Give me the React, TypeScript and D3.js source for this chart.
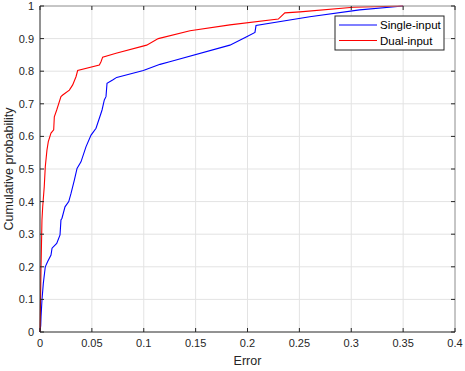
import * as d3 from 'd3';

const xTicks = [0, 0.05, 0.1, 0.15, 0.2, 0.25, 0.3, 0.35, 0.4];
const yTicks = [0, 0.1, 0.2, 0.3, 0.4, 0.5, 0.6, 0.7, 0.8, 0.9, 1];

// Single-input error CDF (x = error, y = cumulative probability)
const singleX = [0, 0.0007, 0.001, 0.0019, 0.0032, 0.0051, 0.0074, 0.0106, 0.0116, 0.0161, 0.0193, 0.0202, 0.0212, 0.0241, 0.0277, 0.0299, 0.0331, 0.0357, 0.0395, 0.0443, 0.0492, 0.054, 0.0588, 0.0598, 0.062, 0.0636, 0.0646, 0.07, 0.0739, 0.0996, 0.1157, 0.125, 0.183, 0.1992, 0.2072, 0.2082, 0.26, 0.308, 0.35];
const singleY = [0, 0.02, 0.047, 0.098, 0.149, 0.2, 0.216, 0.236, 0.257, 0.272, 0.298, 0.344, 0.349, 0.384, 0.4, 0.425, 0.466, 0.502, 0.522, 0.568, 0.604, 0.625, 0.671, 0.681, 0.712, 0.722, 0.763, 0.773, 0.781, 0.802, 0.821, 0.829, 0.88, 0.906, 0.919, 0.94, 0.967, 0.988, 1];

// Dual-input error CDF
const dualX = [0, 0.0003, 0.001, 0.0019, 0.0026, 0.0041, 0.0051, 0.0067, 0.008, 0.0106, 0.0132, 0.0138, 0.0161, 0.0202, 0.0219, 0.0283, 0.0315, 0.0347, 0.0363, 0.0572, 0.0588, 0.0604, 0.0733, 0.1028, 0.114, 0.1446, 0.183, 0.2297, 0.236, 0.2506, 0.302, 0.35];
const dualY = [0, 0.05, 0.2, 0.344, 0.384, 0.446, 0.507, 0.558, 0.584, 0.61, 0.62, 0.66, 0.681, 0.722, 0.727, 0.742, 0.758, 0.783, 0.802, 0.819, 0.829, 0.843, 0.855, 0.88, 0.9, 0.924, 0.942, 0.96, 0.979, 0.982, 0.996, 1];

const seriesNames = ['Single-input', 'Dual-input'];
const seriesColors = ['#0000ff', '#ff0000'];

const W = 465;
const H = 371;
const m = { left: 40, right: 10, top: 6, bottom: 39 };
const font = 'Liberation Sans, Arial, sans-serif';

export default function App() {
  const x = d3.scaleLinear().domain([0, 0.4]).range([m.left, W - m.right]);
  const y = d3.scaleLinear().domain([0, 1]).range([H - m.bottom, m.top]);
  const line = d3.line<[number, number]>().x(d => x(d[0])).y(d => y(d[1]));
  const series = [
    d3.zip(singleX, singleY) as [number, number][],
    d3.zip(dualX, dualY) as [number, number][],
  ];
  const x0 = x(0), x1 = x(0.4), y0 = y(0), y1 = y(1);

  return (
    <svg width={W} height={H} style={{ position: 'absolute', left: 0, top: 0, background: '#fff' }} fontFamily={font}>
      <rect x={x0} y={y1} width={x1 - x0} height={y0 - y1} fill="#fff" />
      {/* grid */}
      {xTicks.slice(1, -1).map(t => (
        <line key={'gx' + t} x1={x(t)} x2={x(t)} y1={y0} y2={y1} stroke="#e3e3e3" strokeWidth={1} />
      ))}
      {yTicks.slice(1, -1).map(t => (
        <line key={'gy' + t} x1={x0} x2={x1} y1={y(t)} y2={y(t)} stroke="#e3e3e3" strokeWidth={1} />
      ))}
      {/* curves */}
      {series.map((s, i) => (
        <path key={i} d={line(s) || ''} fill="none" stroke={seriesColors[i]} strokeWidth={1.1} />
      ))}
      {/* box */}
      <line x1={x0} x2={x1} y1={y1} y2={y1} stroke="#8c8c8c" />
      <line x1={x1} x2={x1} y1={y1} y2={y0} stroke="#8c8c8c" />
      <line x1={x0} x2={x1} y1={y0} y2={y0} stroke="#262626" />
      <line x1={x0} x2={x0} y1={y1} y2={y0} stroke="#262626" />
      {/* ticks */}
      {xTicks.map(t => (
        <g key={'tx' + t}>
          <line x1={x(t)} x2={x(t)} y1={y0} y2={y0 - 4} stroke="#262626" />
          <line x1={x(t)} x2={x(t)} y1={y1} y2={y1 + 4} stroke="#262626" />
          <text x={x(t)} y={y0 + 15} textAnchor="middle" fontSize={11} fill="#262626">{t}</text>
        </g>
      ))}
      {yTicks.map(t => (
        <g key={'ty' + t}>
          <line x1={x0} x2={x0 + 4} y1={y(t)} y2={y(t)} stroke="#262626" />
          <line x1={x1} x2={x1 - 4} y1={y(t)} y2={y(t)} stroke="#262626" />
          <text x={x0 - 6} y={y(t) + 4} textAnchor="end" fontSize={11} fill="#262626">{t}</text>
        </g>
      ))}
      <text x={(x0 + x1) / 2} y={H - 6} textAnchor="middle" fontSize={12.5} fill="#262626">Error</text>
      <text transform={`translate(13,${(y0 + y1) / 2}) rotate(-90)`} textAnchor="middle" fontSize={12.5} fill="#262626">Cumulative probability</text>
      {/* legend */}
      <g transform="translate(335,16)">
        <rect x={0} y={0} width={109} height={34} fill="#fff" stroke="#262626" strokeWidth={1} />
        {seriesNames.map((n, i) => (
          <g key={n} transform={`translate(0,${9 + i * 15.5})`}>
            <line x1={4} x2={42} y1={0} y2={0} stroke={seriesColors[i]} strokeWidth={1.1} />
            <text x={45} y={4} fontSize={11.5} fill="#000">{n}</text>
          </g>
        ))}
      </g>
    </svg>
  );
}
